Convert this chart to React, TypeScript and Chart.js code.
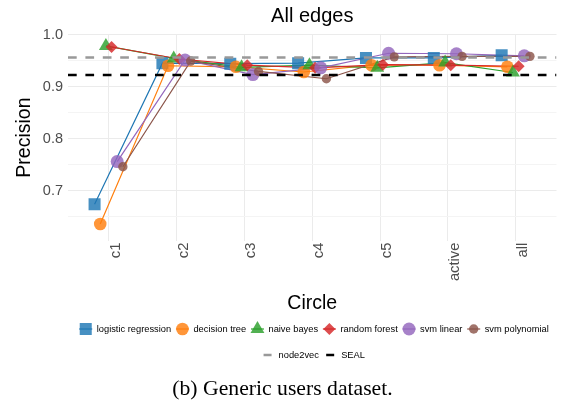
import React, { useEffect, useRef } from 'react';
import { Chart, registerables } from 'chart.js';
import { drawPoint } from 'chart.js/helpers';

Chart.register(...registerables);

// ---------- data ----------
const categories = ['c1', 'c2', 'c3', 'c4', 'c5', 'active', 'all'];
const logisticRegression = [0.674, 0.945, 0.944, 0.945, 0.955, 0.955, 0.960];
const decisionTree = [0.636, 0.940, 0.938, 0.928, 0.941, 0.941, 0.938];
const naiveBayes = [0.978, 0.954, 0.937, 0.941, 0.936, 0.946, 0.927];
const randomForest = [0.976, 0.953, 0.941, 0.936, 0.942, 0.941, 0.939];
const svmLinear = [0.756, 0.951, 0.923, 0.936, 0.964, 0.963, 0.959];
const svmPolynomial = [0.746, 0.949, 0.929, 0.915, 0.957, 0.958, 0.958];
const seriesNames = ['logistic regression', 'decision tree', 'naive bayes', 'random forest', 'svm linear', 'svm polynomial'];
const seriesValues = [logisticRegression, decisionTree, naiveBayes, randomForest, svmLinear, svmPolynomial];
const node2vecValue = 0.956;
const sealValue = 0.922;
const yMajorTicks = [0.7, 0.8, 0.9, 1.0];
const yMinorTicks = [0.65, 0.75, 0.85, 0.95];

// ---------- styles ----------
const seriesColors = ['#1f77b4', '#ff7f0e', '#2ca02c', '#d62728', '#9467bd', '#8c564b'];
const seriesFills = [
  'rgba(31,119,180,0.82)', 'rgba(255,127,14,0.82)', 'rgba(44,160,44,0.82)',
  'rgba(214,39,40,0.82)', 'rgba(148,103,189,0.82)', 'rgba(140,86,75,0.82)',
];
const pointStyles = ['rect', 'circle', 'triangle', 'rectRot', 'circle', 'circle'];
const pointRadii = [8.5, 6.3, 8, 6, 6.5, 4.7];
const yMin = 0.604;
const yMax = 1.0;
const xMin = -0.6;
const xMax = 6.6;
const dodgeWidth = 0.5;
const FONT = "'Liberation Sans', Arial, sans-serif";

const isMajor = (v: number) => Math.abs(Math.round(v * 10) - v * 10) < 1e-6;

const annotationsPlugin = {
  id: 'annotations',
  afterDraw(chart: any) {
    const ctx = chart.ctx as CanvasRenderingContext2D;
    const area = chart.chartArea;
    const cx = (area.left + area.right) / 2;
    ctx.save();
    ctx.fillStyle = '#000';
    // title
    ctx.font = `20px ${FONT}`;
    ctx.textAlign = 'center';
    ctx.textBaseline = 'alphabetic';
    ctx.fillText('All edges', cx, 22);
    // x title
    ctx.font = `19.5px ${FONT}`;
    ctx.fillText('Circle', cx, 308.5);
    // y title
    ctx.save();
    ctx.translate(30, (area.top + area.bottom) / 2);
    ctx.rotate(-Math.PI / 2);
    ctx.fillText('Precision', 0, 0);
    ctx.restore();

    // legend row 1
    ctx.font = `9.3px ${FONT}`;
    ctx.textAlign = 'left';
    ctx.textBaseline = 'middle';
    const gapMarkerText = 11;
    const gapItems = 11.3;
    const widths = seriesNames.map((n) => ctx.measureText(n).width);
    let total = 6;
    widths.forEach((w, i) => {
      total += gapMarkerText + w + (i < widths.length - 1 ? gapItems : 0);
    });
    let x = cx + 2 - total / 2 + 6;
    const y1 = 329;
    seriesNames.forEach((name, i) => {
      ctx.strokeStyle = seriesColors[i];
      ctx.lineWidth = 1.2;
      ctx.beginPath();
      ctx.moveTo(x - 6.5, y1);
      ctx.lineTo(x + 6.5, y1);
      ctx.stroke();
      ctx.fillStyle = seriesFills[i];
      drawPoint(ctx, { pointStyle: pointStyles[i], radius: pointRadii[i], rotation: 0, borderWidth: 0 } as any, x, y1);
      ctx.fillStyle = '#000';
      ctx.fillText(name, x + gapMarkerText, y1);
      x += gapMarkerText + widths[i] + gapItems;
    });

    // legend row 2
    const refNames = ['node2vec', 'SEAL'];
    const refColors = ['#999999', '#000000'];
    const rw = refNames.map((n) => ctx.measureText(n).width);
    const total2 = 4 + gapMarkerText + rw[0] + gapItems + gapMarkerText + rw[1];
    let x2 = cx + 2 - total2 / 2 + 4;
    const y2 = 355;
    refNames.forEach((name, i) => {
      ctx.strokeStyle = refColors[i];
      ctx.lineWidth = 2.5;
      ctx.beginPath();
      ctx.moveTo(x2 - 4, y2);
      ctx.lineTo(x2 + 4, y2);
      ctx.stroke();
      ctx.fillStyle = '#000';
      ctx.fillText(name, x2 + gapMarkerText, y2);
      x2 += gapMarkerText + rw[i] + gapItems;
    });

    // caption
    ctx.font = "21.7px 'Liberation Serif', 'Times New Roman', serif";
    ctx.textAlign = 'center';
    ctx.textBaseline = 'alphabetic';
    ctx.fillStyle = '#000';
    ctx.fillText('(b) Generic users dataset.', chart.width / 2, 394.5);
    ctx.restore();
  },
};

export default function App() {
  const canvasRef = useRef<HTMLCanvasElement | null>(null);

  useEffect(() => {
    document.body.style.margin = '0';
    const canvas = canvasRef.current;
    if (!canvas) return;

    const datasets: any[] = [];
    // line layer (drawn beneath all points, like geom_line before geom_point)
    seriesValues.forEach((vals, i) => {
      datasets.push({
        label: seriesNames[i] + ' line',
        data: vals.map((v, j) => ({ x: j + (i - 2.5) * (dodgeWidth / 6), y: v })),
        showLine: true,
        borderColor: seriesColors[i],
        borderWidth: 1.2,
        tension: 0,
        pointRadius: 0,
        order: 100 - i,
      });
    });
    // point layer
    seriesValues.forEach((vals, i) => {
      datasets.push({
        label: seriesNames[i],
        data: vals.map((v, j) => ({ x: j + (i - 2.5) * (dodgeWidth / 6), y: v })),
        showLine: false,
        pointStyle: pointStyles[i],
        pointRadius: pointRadii[i],
        pointBackgroundColor: seriesFills[i],
        pointBorderWidth: 0,
        pointBorderColor: 'rgba(0,0,0,0)',
        order: 50 - i,
      });
    });
    datasets.push({
      label: 'node2vec',
      data: [{ x: xMin, y: node2vecValue }, { x: xMax, y: node2vecValue }],
      showLine: true,
      borderColor: '#999999',
      borderWidth: 2.5,
      borderDash: [8.7, 8.7],
      pointRadius: 0,
      order: 1,
    });
    datasets.push({
      label: 'SEAL',
      data: [{ x: xMin, y: sealValue }, { x: xMax, y: sealValue }],
      showLine: true,
      borderColor: '#000000',
      borderWidth: 2.5,
      borderDash: [8.7, 8.7],
      pointRadius: 0,
      order: 0,
    });

    Chart.defaults.font.family = FONT;

    const chart = new Chart(canvas, {
      type: 'scatter',
      data: { datasets },
      options: {
        animation: false,
        responsive: false,
        devicePixelRatio: 1,
        events: [],
        layout: { padding: { top: 34.5, right: 7, bottom: 111.3, left: 0 } },
        plugins: {
          legend: { display: false },
          title: { display: false },
          tooltip: { enabled: false },
        },
        scales: {
          x: {
            type: 'linear',
            min: xMin,
            max: xMax,
            afterBuildTicks: (s: any) => {
              s.ticks = categories.map((_, i) => ({ value: i }));
            },
            afterFit: (s: any) => {
              s.height = 50;
            },
            ticks: {
              autoSkip: false,
              minRotation: 90,
              maxRotation: 90,
              padding: 2,
              labelOffset: 7,
              color: '#4d4d4d',
              font: { size: 14.7, family: FONT },
              callback: (v: any) => categories[Math.round(Number(v))] ?? '',
            },
            grid: { color: '#ebebeb', lineWidth: 1, drawTicks: false },
            border: { display: false },
          },
          y: {
            type: 'linear',
            min: yMin,
            max: yMax,
            afterBuildTicks: (s: any) => {
              s.ticks = [...yMinorTicks, ...yMajorTicks].sort((a, b) => a - b).map((v) => ({ value: v }));
            },
            afterFit: (s: any) => {
              s.width = 68;
            },
            ticks: {
              padding: 5,
              color: '#4d4d4d',
              font: { size: 14.5, family: FONT },
              callback: (v: any) => (isMajor(Number(v)) ? Number(v).toFixed(1) : ''),
            },
            grid: {
              color: (c: any) => (c.tick && isMajor(c.tick.value) ? '#ebebeb' : '#f4f4f4'),
              lineWidth: 1,
              drawTicks: false,
            },
            border: { display: false },
          },
        },
      },
      plugins: [annotationsPlugin],
    } as any);

    return () => chart.destroy();
  }, []);

  return (
    <div style={{ position: 'absolute', left: 0, top: 0, width: 565, height: 402 }}>
      <canvas ref={canvasRef} width={565} height={402} style={{ display: 'block', width: 565, height: 402 }} />
    </div>
  );
}
